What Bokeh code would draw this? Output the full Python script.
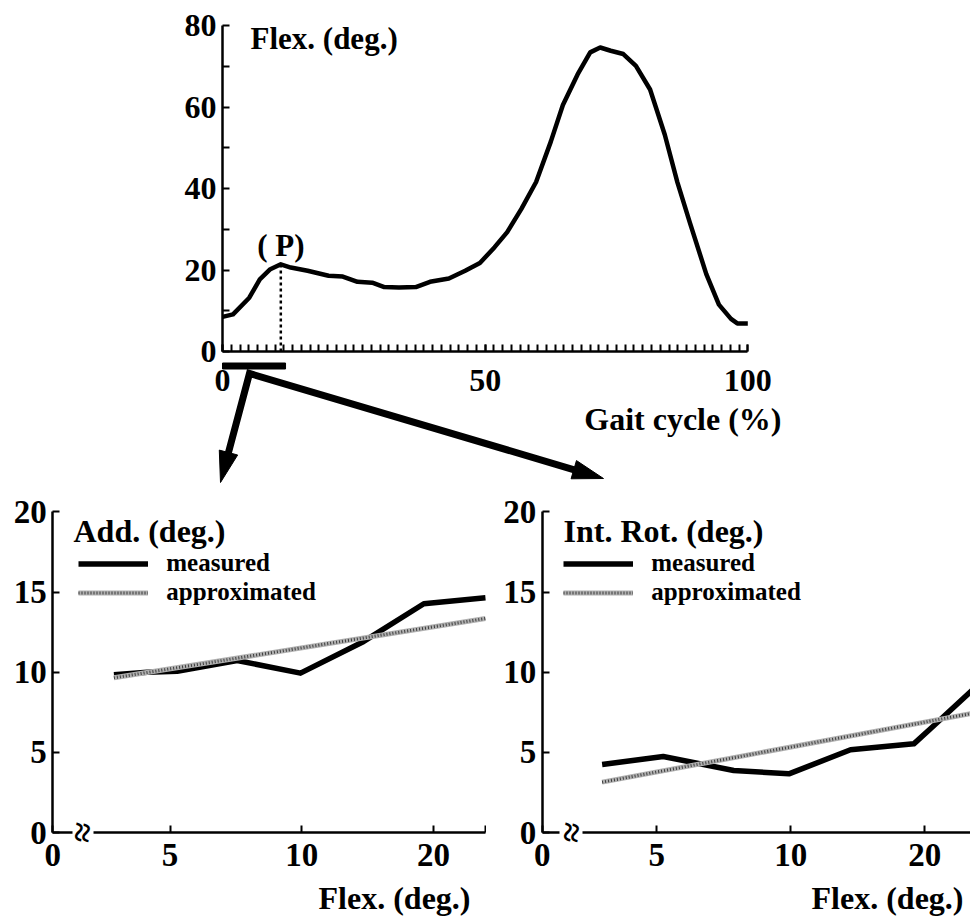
import math
from bokeh.plotting import figure
from bokeh.models import Range1d, FixedTicker, BoxAnnotation, Label, Legend, LegendItem
from bokeh.layouts import column, row
from bokeh.embed import file_html
from bokeh.resources import INLINE
from bokeh.core.properties import value

FONT = "Liberation Serif"

# ---------------- data ----------------
gait_cycle = [0, 2, 5.1, 7.1, 9.1, 11.1, 13, 16.2, 20.2, 22.9, 25.7, 28.5, 30.8, 33.6,
              36.8, 39.5, 43.1, 46.2, 49, 51.8, 54.2, 56.9, 59.7, 62.5, 64.8, 67.6, 70,
              71.9, 73.9, 76.3, 78.7, 81.4, 84.2, 86.6, 89, 92.1, 94.5, 96.8, 98, 100]
hip_flexion = [8.5, 9.1, 13.2, 17.7, 20.2, 21.4, 20.6, 19.8, 18.6, 18.4, 17.1, 16.9, 15.8, 15.7,
               15.8, 17.1, 17.9, 19.8, 21.7, 25.6, 29.3, 35.0, 41.6, 51.5, 60.5, 68.0, 73.4,
               74.6, 73.8, 73.0, 70.1, 64.3, 53.2, 41.5, 31.5, 19.0, 11.5, 8.0, 6.9, 6.9]
stance_window = [0, 12]          # % of gait cycle analysed in the lower panels

top_x_ticks = [0, 50, 100]
top_x_minor = [i * 100 / 60 for i in range(61)]
top_y_ticks = [0, 20, 40, 60, 80]
top_y_minor = [10, 30, 50, 70]

add_flex = [2.87, 4.13, 5.27, 7.55, 9.95, 12.35, 14.63, 16.97]
add_measured = [9.84, 10.0, 10.06, 10.73, 9.94, 11.92, 14.27, 14.64]
add_fit_flex = [2.87, 16.97]
add_fit = [9.65, 13.35]

rot_flex = [2.96, 5.24, 7.87, 9.93, 12.23, 14.59, 15.21, 16.78]
rot_measured = [4.24, 4.74, 3.87, 3.66, 5.16, 5.53, 6.47, 8.9]
rot_fit_flex = [2.96, 16.78]
rot_fit = [3.14, 7.44]

bottom_x_ticks = [5, 10, 15]
bottom_x_labels = ["5", "10", "20"]
bottom_y_ticks = [0, 5, 10, 15, 20]

# ---------------- layout (page pixels) ----------------
M = 0
W = 970
TOP_H = 488
BOT_H = 430
BL_W = 486
BR_W = W - BL_W


def base_fig(w, h, xr, yr):
    p = figure(width=w, height=h, x_range=Range1d(*xr), y_range=Range1d(*yr),
               output_backend="svg", toolbar_location=None,
               min_border=0, min_border_left=0, min_border_right=0,
               min_border_top=0, min_border_bottom=0)
    p.outline_line_color = None
    p.xgrid.visible = False
    p.ygrid.visible = False
    p.background_fill_color = "white"
    p.border_fill_color = "white"
    return p


def style_axis(ax, size, standoff):
    ax.axis_line_width = 2.5
    ax.axis_line_color = "black"
    ax.major_tick_line_width = 2
    ax.minor_tick_line_width = 2
    ax.major_tick_line_color = "black"
    ax.minor_tick_line_color = "black"
    ax.major_tick_in = 7
    ax.major_tick_out = 0
    ax.minor_tick_in = 7
    ax.minor_tick_out = 0
    ax.major_label_text_font = FONT
    ax.major_label_text_font_style = "bold"
    ax.major_label_text_font_size = size
    ax.major_label_text_color = "black"
    ax.major_label_standoff = standoff


def bold_text(p, x, y, s, size, align="left"):
    p.text(x=[x], y=[y], text=[s], text_font=value(FONT), text_font_style="bold",
           text_font_size=size, text_align=align, text_baseline="middle", text_color="black")


# ================= top panel =================
T_X0, T_SX = 222.0, 5.253     # page px of 0 %, px per %
T_Y0, T_SY = 351.0, 4.075     # page px of 0 deg, px per deg


def tx(px):
    return (px - T_X0) / T_SX


def ty(py):
    return (T_Y0 - py) / T_SY


top = base_fig(W, TOP_H, (tx(M), tx(M + W)), (ty(M + TOP_H), ty(M)))
top.xaxis.fixed_location = 0
top.yaxis.fixed_location = 0
top.xaxis.bounds = (0, 100)
top.yaxis.bounds = (0, 80)
top.xaxis.ticker = FixedTicker(ticks=top_x_ticks, minor_ticks=top_x_minor)
top.yaxis.ticker = FixedTicker(ticks=top_y_ticks, minor_ticks=top_y_minor)
style_axis(top.xaxis[0], "32px", 18)
style_axis(top.yaxis[0], "32px", 6)

top.line(gait_cycle, hip_flexion, line_width=4.5, color="black", line_join="round")

# peak (P) in the early stance
early = [i for i, g in enumerate(gait_cycle) if g < 30]
ip = max(early, key=lambda i: hip_flexion[i])
px_, py_ = gait_cycle[ip], hip_flexion[ip]
top.line([px_, px_], [0, py_], line_width=2.5, color="black", line_dash="3 3")
bold_text(top, px_, ty(245), "( P)", "31px", "center")

# analysed window bar
top.quad(left=[stance_window[0]], right=[stance_window[1]],
         bottom=[ty(368.5)], top=[ty(362.5)], color="black")

bold_text(top, tx(250), ty(38), "Flex. (deg.)", "31px")
bold_text(top, tx(781), ty(418), "Gait cycle (%)", "32px", "right")

# arrows (page pixel geometry)
apex = (249.0, 373.0)
tips = [(220.0, 482.0), (603.0, 478.0)]
HEAD_LEN, HEAD_HALF = 31.0, 9.5
bases = []
for tip in tips:
    dx, dy = tip[0] - apex[0], tip[1] - apex[1]
    L = math.hypot(dx, dy)
    ux, uy = dx / L, dy / L
    bx, by = tip[0] - HEAD_LEN * ux, tip[1] - HEAD_LEN * uy
    nx, ny = -uy, ux
    top.patch([tx(tip[0]), tx(bx + HEAD_HALF * nx), tx(bx - HEAD_HALF * nx)],
              [ty(tip[1]), ty(by + HEAD_HALF * ny), ty(by - HEAD_HALF * ny)],
              color="black")
    bases.append((bx + 4 * ux, by + 4 * uy))
top.line([tx(bases[0][0]), tx(apex[0]), tx(bases[1][0])],
         [ty(bases[0][1]), ty(apex[1]), ty(bases[1][1])],
         line_width=7, color="black", line_join="miter", line_cap="butt")

# ================= bottom panels =================
B_Y0, B_SY = 832.0, 16.03
B_TOP, B_BOT = M + TOP_H, M + TOP_H + BOT_H


def bottom_panel(fig_left, fig_w, x0_px, sx, origin_px, axis_end_px, title, title_px,
                 legend_px, xlabel_right_px, squig_px, gap_px, flex, meas, fflex, fit):
    def bx(px):
        return (px - x0_px) / sx

    def by(py):
        return (B_Y0 - py) / B_SY

    p = base_fig(fig_w, BOT_H, (bx(fig_left), bx(fig_left + fig_w)), (by(B_BOT), by(B_TOP)))
    origin = bx(origin_px)
    end = bx(axis_end_px) if axis_end_px is not None else bx(fig_left + fig_w)
    p.xaxis.fixed_location = 0
    p.yaxis.fixed_location = origin
    p.xaxis.bounds = (origin, end)
    p.yaxis.bounds = (0, 20)
    minor = [end] if axis_end_px is not None else []
    p.xaxis.ticker = FixedTicker(ticks=[origin] + bottom_x_ticks, minor_ticks=minor)
    overrides = {origin: "0"}
    for t, lab in zip(bottom_x_ticks, bottom_x_labels):
        overrides[t] = lab
    p.xaxis.major_label_overrides = overrides
    p.yaxis.ticker = FixedTicker(ticks=bottom_y_ticks)
    style_axis(p.xaxis[0], "33px", 11)
    style_axis(p.yaxis[0], "33px", 6)

    r_meas = p.line(flex, meas, line_width=5.5, color="black", line_join="round")
    r_fit1 = p.line(fflex, fit, line_width=5, color="#b0b0b0")
    r_fit2 = p.line(fflex, fit, line_width=3, color="#3c3c3c", line_dash="1 2")

    # axis break
    p.add_layout(BoxAnnotation(left=bx(gap_px[0]), right=bx(gap_px[1]), bottom=-0.45, top=0.45,
                               fill_color="white", fill_alpha=1.0, line_color=None))
    p.add_layout(Label(x=bx(squig_px), y=0, text="≈", angle=1.45, text_align="center",
                       text_baseline="middle", text_font=FONT, text_font_size="36px",
                       text_font_style="bold", text_color="black"))

    bold_text(p, bx(title_px[0]), by(title_px[1]), title, "32px")
    bold_text(p, bx(xlabel_right_px), by(897), "Flex. (deg.)", "32px", "right")

    row_h = 29
    legend = Legend(items=[LegendItem(label="measured", renderers=[r_meas]),
                           LegendItem(label="approximated", renderers=[r_fit1, r_fit2])],
                    location=(legend_px[0] - fig_left, B_BOT - (legend_px[1] + 2 * row_h)),
                    glyph_width=70, glyph_height=row_h, label_height=row_h,
                    label_standoff=18, spacing=0, padding=0, margin=0,
                    border_line_color=None, background_fill_alpha=0,
                    label_text_font=FONT, label_text_font_style="bold",
                    label_text_font_size="25px", label_text_color="black")
    p.add_layout(legend)
    return p


left = bottom_panel(M, BL_W, 37.8, 26.35, 52.3, 485.0, "Add. (deg.)", (73, 530),
                    (78.3, 548.5), 470, 82, (72, 93),
                    add_flex, add_measured, add_fit_flex, add_fit)
right = bottom_panel(M + BL_W, BR_W, 522.3, 26.8, 541.7, None, "Int. Rot. (deg.)", (563, 530),
                     (563.3, 548.5), 963, 571, (559, 582),
                     rot_flex, rot_measured, rot_fit_flex, rot_fit)

layout = column(top, row(left, right, spacing=0), spacing=0)
open("out.html", "w").write(file_html(layout, INLINE))
